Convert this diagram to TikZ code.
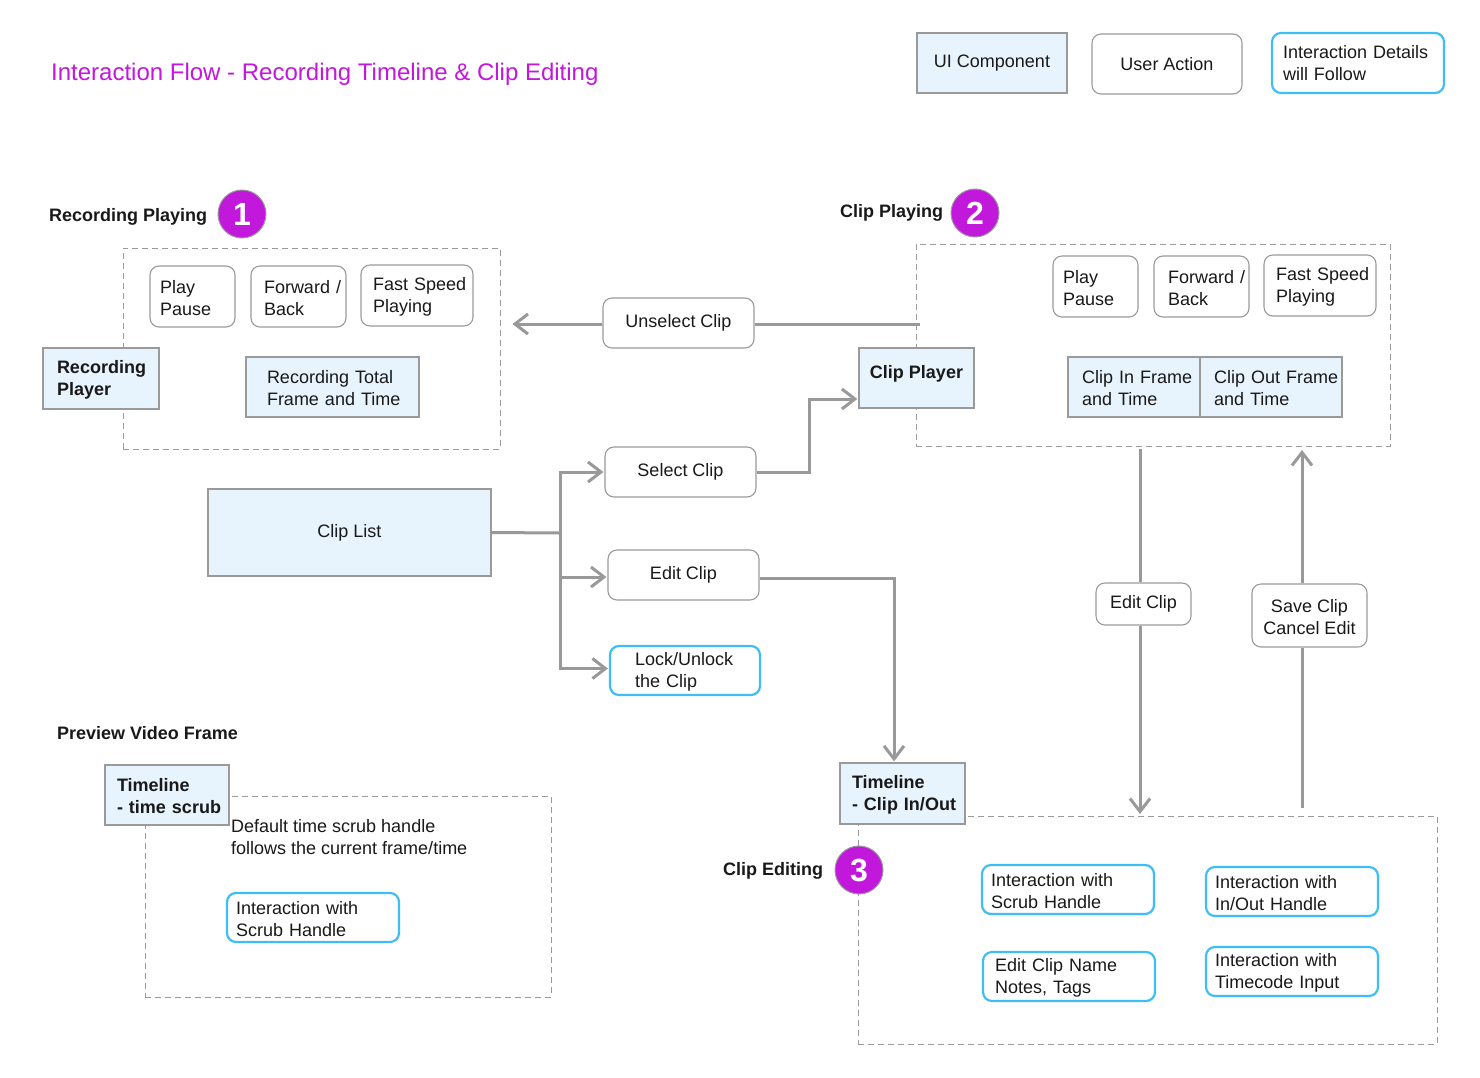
\documentclass[tikz,border=0pt]{standalone}
\usepackage{fontspec}
\setmainfont{Liberation Sans}
\usetikzlibrary{arrows.meta}
\definecolor{uifill}{HTML}{E8F4FD}
\definecolor{bgray}{HTML}{9A9A9A}
\definecolor{agray}{HTML}{999999}
\definecolor{cyanb}{HTML}{3FBDF5}
\definecolor{purp}{HTML}{C218DC}
\begin{document}
\begin{tikzpicture}[x=1pt,y=-1pt,
  every node/.style={font=\fontsize{18}{22}\selectfont, text=black!90},
  ui/.style={draw=bgray, fill=uifill, line width=1.3pt, inner xsep=0pt, inner ysep=0pt},
  act/.style={draw=bgray, fill=white, rounded corners=9pt, line width=1.1pt, inner xsep=0pt, inner ysep=0pt},
  det/.style={draw=cyanb, fill=white, rounded corners=9pt, line width=2.2pt, inner xsep=0pt, inner ysep=0pt},
  grp/.style={draw=bgray, dash pattern=on 6pt off 4pt, line width=1pt, inner sep=0pt},
  lbl/.style={font=\fontsize{18}{22}\selectfont\bfseries, anchor=west, inner sep=0pt},
  num/.style={circle, fill=purp, draw=bgray, line width=1pt, minimum size=48pt, inner sep=0pt,
    text=white, font=\fontsize{32}{36}\selectfont\bfseries},
  ln/.style={draw=agray, line width=3pt},
  arr/.style={draw=agray, line width=3pt, -{Straight Barb[length=13pt,width=20pt]}, shorten >=1pt}
]
\fill[white] (0,0) rectangle (1480,1077);
\useasboundingbox (0,0) rectangle (1480,1077);

% title
\node[anchor=west, inner sep=0pt, font=\fontsize{24}{28}\selectfont, text=purp] (title) at (51,74) {Interaction Flow - Recording Timeline \& Clip Editing};

% legend
\node[ui, minimum width=150pt, minimum height=60pt] (legui) at (992,63) {UI Component};
\node[act, minimum width=150pt, minimum height=60pt] (legact) at (1167,64) {User Action};
\node[det, minimum width=172pt, minimum height=60pt, text width=150pt, align=left] (legdet) at (1358,63) {Interaction~Details\\will Follow};

% groups (dashed)
\node[grp, minimum width=377pt, minimum height=201pt] (recgrp) at (311.5,348.5) {};
\node[grp, minimum width=474pt, minimum height=202pt] (cpgrp) at (1153,345) {};
\node[grp, minimum width=579pt, minimum height=228pt] (cegrp) at (1147.5,930) {};
\node[grp, minimum width=406pt, minimum height=201pt] (pvgrp) at (348,896.5) {};

% Recording playing
\node[lbl] (lrec) at (49,217) {Recording Playing};
\node[num] (n1) at (242,214) {1};
\node[act, minimum width=85pt, minimum height=61pt, text width=65pt, align=left] (rpplay) at (192.5,296.5) {\strut Play\\Pause};
\node[act, minimum width=95pt, minimum height=61pt, text width=69pt, align=left] (rpfwd) at (298.5,296.5) {\strut Forward~/\\Back};
\node[act, minimum width=112pt, minimum height=61pt, text width=88pt, align=left] (rpfast) at (417,295.5) {\strut Fast~Speed\\Playing};
\node[ui, minimum width=116pt, minimum height=61pt, text width=88pt, align=left, font=\fontsize{18}{22}\selectfont\bfseries] (recplayer) at (101,378.5) {\strut Recording\\Player};
\node[ui, minimum width=173pt, minimum height=60pt, text width=131pt, align=left] (rectotal) at (332.5,387) {\strut Recording~Total\\Frame~and~Time};

% Clip playing
\node[lbl] (lcp) at (840,213) {Clip Playing};
\node[num] (n2) at (975,213) {2};
\node[act, minimum width=85pt, minimum height=61pt, text width=65pt, align=left] (cpplay) at (1095.5,286.5) {\strut Play\\Pause};
\node[act, minimum width=95pt, minimum height=61pt, text width=67pt, align=left] (cpfwd) at (1201.5,286.5) {\strut Forward~/\\Back};
\node[act, minimum width=112pt, minimum height=61pt, text width=88pt, align=left] (cpfast) at (1320,285.5) {\strut Fast~Speed\\Playing};
\node[ui, minimum width=115pt, minimum height=60pt, font=\fontsize{18}{22}\selectfont\bfseries, text depth=12pt] (clipplayer) at (916.5,378) {Clip Player};
\node[ui, minimum width=132pt, minimum height=60pt, text width=104pt, align=left] (clipin) at (1134,387) {\strut Clip~In~Frame\\and~Time};
\node[ui, minimum width=142pt, minimum height=60pt, text width=114pt, align=left] (clipout) at (1271,387) {\strut Clip~Out~Frame\\and~Time};

% clip list and actions
\node[ui, minimum width=283pt, minimum height=87pt] (cliplist) at (349.5,532.5) {Clip List};
\node[act, minimum width=151pt, minimum height=50pt] (unselect) at (678.5,323) {Unselect Clip};
\node[act, minimum width=151pt, minimum height=50pt] (selectclip) at (680.5,472) {Select Clip};
\node[act, minimum width=151pt, minimum height=50pt] (editclip) at (683.5,575) {Edit Clip};
\node[det, minimum width=150pt, minimum height=49pt, text width=100pt, align=left] (lock) at (685,670.5) {\strut Lock/Unlock\\the Clip};

% vertical actions
\node[act, minimum width=95pt, minimum height=42pt] (edit2) at (1143.5,604) {Edit Clip};
\node[act, minimum width=115pt, minimum height=63pt, align=center] (save) at (1309.5,615.5) {\strut Save Clip\\Cancel Edit};

% clip editing
\node[ui, minimum width=125pt, minimum height=61pt, text width=101pt, align=left, font=\fontsize{18}{22}\selectfont\bfseries] (tlclip) at (902.5,793.5) {\strut Timeline\\\mbox{- Clip In/Out}};
\node[lbl] (lce) at (723,871) {Clip Editing};
\node[num] (n3) at (859,870) {3};
\node[det, minimum width=172pt, minimum height=49pt, text width=154pt, align=left] (ce1) at (1068,889.5) {\strut Interaction~with\\Scrub~Handle};
\node[det, minimum width=172pt, minimum height=49pt, text width=154pt, align=left] (ce2) at (1292,891.5) {\strut Interaction~with\\In/Out~Handle};
\node[det, minimum width=172pt, minimum height=49pt, text width=148pt, align=left] (ce3) at (1069,976.5) {\strut Edit~Clip~Name\\Notes,~Tags};
\node[det, minimum width=172pt, minimum height=49pt, text width=154pt, align=left] (ce4) at (1292,971.5) {\strut Interaction~with\\Timecode~Input};

% preview
\node[lbl] (lpv) at (57,733) {Preview Video Frame};
\node[ui, minimum width=124pt, minimum height=60pt, text width=100pt, align=left, font=\fontsize{18}{22}\selectfont\bfseries] (tlscrub) at (167,795) {\strut Timeline\\\mbox{- time scrub}};
\node[anchor=west, inner sep=0pt, align=left] (deftext) at (231,837) {Default time scrub handle\\follows the current frame/time};
\node[det, minimum width=172pt, minimum height=49pt, text width=154pt, align=left] (pvscrub) at (313,917.5) {\strut Interaction~with\\Scrub~Handle};

% connectors
\coordinate (fork) at (560,533);
\draw[ln] (cliplist.east) -- (fork);
\draw[arr] (fork) |- (selectclip.west);
\draw[arr] (fork) |- ([yshift=-2pt]editclip.west);
\draw[arr] (fork) |- ([yshift=2pt]lock.west);
\draw[arr] (selectclip.east) -- (809,472) |- ([yshift=-21pt]clipplayer.west);
\draw[arr] ([yshift=-3pt]editclip.east) -| ([xshift=-8.5pt]tlclip.north);
\coordinate (ustart) at (920,324);
\draw[ln] (ustart) -- (unselect.east |- ustart);
\draw[arr] (unselect.west |- ustart) -- ([xshift=11pt]recgrp.east |- ustart);
\coordinate (e2top) at (1140,449);
\coordinate (e2bot) at (1140,815);
\draw[ln] (e2top) -- (edit2.north -| e2top);
\draw[arr] (edit2.south -| e2top) -- (e2bot);
\coordinate (svbot) at (1302,808);
\coordinate (svtop) at (1302,449);
\draw[ln] (svbot) -- (save.south -| svbot);
\draw[arr] (save.north -| svbot) -- (svtop);
\end{tikzpicture}
\end{document}
